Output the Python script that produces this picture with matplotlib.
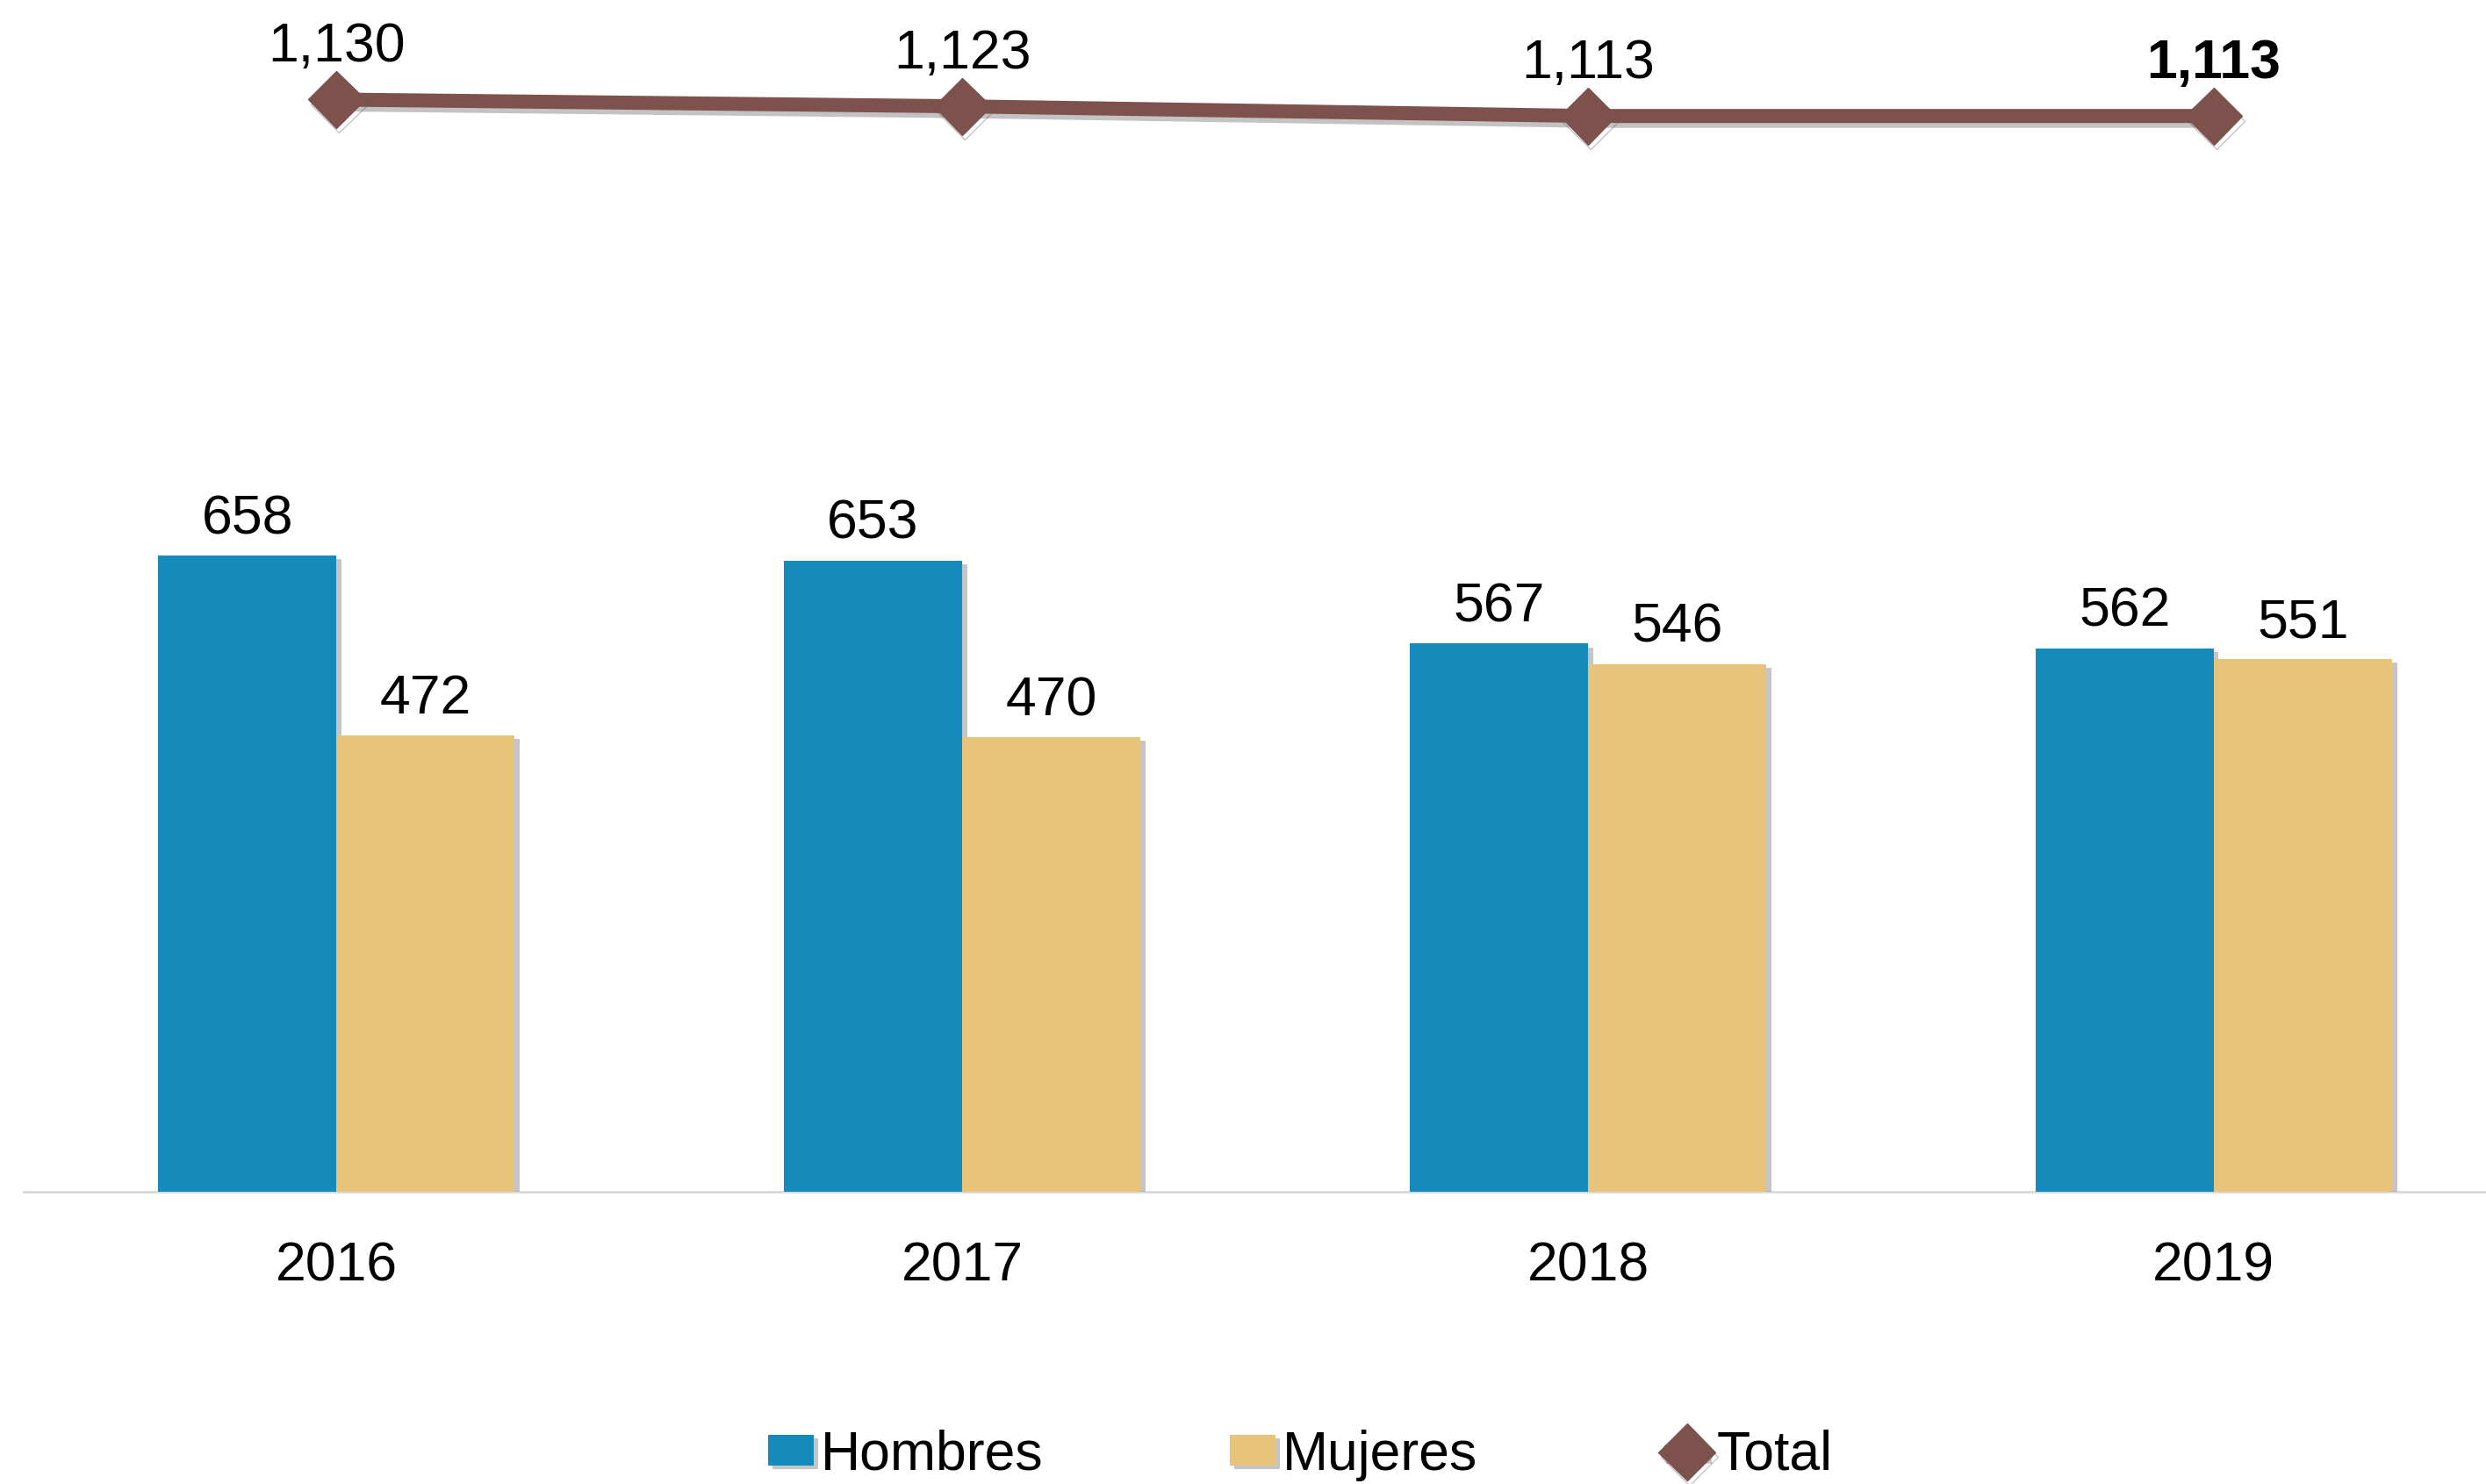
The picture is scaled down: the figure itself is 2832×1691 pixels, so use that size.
import numpy as np
import matplotlib
matplotlib.use('agg')
import matplotlib.pyplot as plt
import matplotlib.patheffects as pe

plt.rcParams['font.family'] = ['Liberation Sans', 'DejaVu Sans']

# Data
years = ['2016', '2017', '2018', '2019']
hombres = [658, 653, 567, 562]
mujeres = [472, 470, 546, 551]
total = [1130, 1123, 1113, 1113]

c_hombres = '#168BBB'
c_mujeres = '#E8C47A'
c_total = '#7D524C'
FS = 45

fig = plt.figure(figsize=(28.32, 16.91), dpi=100)
ax = fig.add_axes([0.0095, 0.197, 0.9905, 0.803])

x = np.arange(len(years))
w = 0.285
bar_shadow = [pe.SimplePatchShadow(offset=(4, -3), shadow_rgbFace='#808080', alpha=0.45), pe.Normal()]

b1 = ax.bar(x - w / 2, hombres, w, color=c_hombres, label='Hombres', zorder=2)
b2 = ax.bar(x + w / 2, mujeres, w, color=c_mujeres, label='Mujeres', zorder=2)
for b in list(b1) + list(b2):
    b.set_path_effects(bar_shadow)

ln, = ax.plot(x, total, color=c_total, lw=11.5, marker='D', markersize=33,
              label='Total', zorder=3, solid_capstyle='butt',
              path_effects=[pe.SimpleLineShadow(offset=(2, -4), shadow_color='#555555', alpha=0.35), pe.Normal()])

# value labels
for i in range(len(years)):
    ax.annotate(str(hombres[i]), (x[i] - w / 2, hombres[i]), xytext=(0, 18), textcoords='offset points',
                ha='center', va='baseline', fontsize=FS)
    ax.annotate(str(mujeres[i]), (x[i] + w / 2, mujeres[i]), xytext=(0, 18), textcoords='offset points',
                ha='center', va='baseline', fontsize=FS)
    ax.annotate(f"{total[i]:,}", (x[i], total[i]), xytext=(0, 31), textcoords='offset points',
                ha='center', va='baseline', fontsize=FS,
                fontweight='bold' if i == len(years) - 1 else 'normal')

ax.set_xlim(-0.5, 3.435)
ax.set_ylim(0, 1233)
ax.set_xticks(x)
ax.set_xticklabels(years, fontsize=FS)
ax.tick_params(axis='x', length=0, pad=40)
ax.set_yticks([])
for s in ['top', 'right', 'left']:
    ax.spines[s].set_visible(False)
ax.spines['bottom'].set_color('#D9D9D9')
ax.spines['bottom'].set_linewidth(2)
ax.spines['bottom'].set_zorder(1)

fig.legend(handles=[b1, b2, ln], labels=['Hombres', 'Mujeres', 'Total'], loc='center',
           bbox_to_anchor=(0.523, 1 - 1658 / 1691), ncol=3, frameon=False, fontsize=FS,
           handlelength=0.83, handleheight=0.5, handletextpad=0.13, columnspacing=3.4,
           borderaxespad=0, borderpad=0)

fig.savefig('out.png', dpi=100)
